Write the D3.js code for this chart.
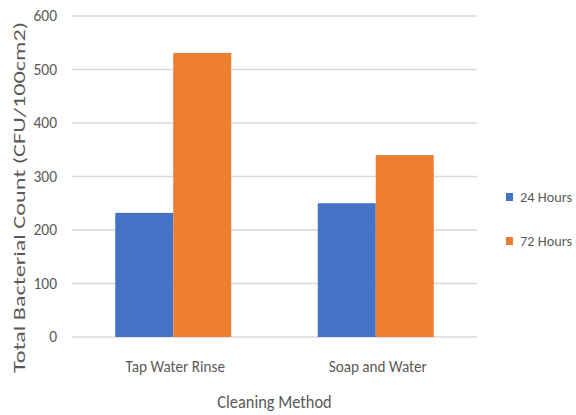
<!DOCTYPE html>
<html><head><meta charset="utf-8">
<script src="https://cdn.jsdelivr.net/npm/d3@7"></script>
<style>body{margin:0;background:#fff;} text{font-family:Carlito,Lato,sans-serif;fill:#595959;}</style>
</head><body>
<script>
const categories = ["Tap Water Rinse", "Soap and Water"];
const seriesNames = ["24 Hours", "72 Hours"];
const values24 = [232, 250];
const values72 = [531, 340];
const yTicks = [0, 100, 200, 300, 400, 500, 600];
const colors = ["#4472C4", "#ED7D31"];

const W = 576, H = 415;
const svg = d3.select("body").append("svg").attr("width", W).attr("height", H);
const m = {left: 72, right: 99, top: 16, bottom: 78};
const x = d3.scaleBand().domain(categories).range([m.left, W - m.right]).paddingInner(0).paddingOuter(0);
const xs = d3.scaleBand().domain(seriesNames).range([0, x.bandwidth()]).paddingInner(0).paddingOuter(0.746);
const y = d3.scaleLinear().domain([0, 600]).range([H - m.bottom, m.top]);

function squeeze(sel, k) {
  sel.each(function() {
    const len = this.getComputedTextLength();
    d3.select(this).attr("textLength", len * k).attr("lengthAdjust", "spacingAndGlyphs");
  });
}

svg.append("g").selectAll("line").data(yTicks).enter().append("line")
  .attr("x1", m.left).attr("x2", W - m.right)
  .attr("y1", d => y(d)).attr("y2", d => y(d))
  .attr("stroke", "#d9d9d9").attr("stroke-width", 1.4);

const yAxis = d3.axisLeft(y).tickValues(yTicks).tickSize(0).tickPadding(15);
const ya = svg.append("g").attr("transform", `translate(${m.left},0)`).call(yAxis);
ya.select(".domain").remove();
ya.selectAll("text").style("font-size", "15.5px").attr("fill", "#595959");

const data = categories.map((c, i) => ({c, vals: [values24[i], values72[i]]}));
const grp = svg.selectAll("g.cat").data(data).enter().append("g").attr("class", "cat")
  .attr("transform", d => `translate(${x(d.c)},0)`);
grp.selectAll("rect").data(d => d.vals.map((v, j) => ({s: seriesNames[j], v, j}))).enter().append("rect")
  .attr("x", d => xs(d.s)).attr("width", xs.bandwidth())
  .attr("y", d => y(d.v)).attr("height", d => y(0) - y(d.v))
  .attr("fill", d => colors[d.j]);

const xAxis = d3.axisBottom(x).tickSize(0).tickPadding(23);
const xa = svg.append("g").attr("transform", `translate(2,${y(0)})`).call(xAxis);
xa.select(".domain").remove();
xa.selectAll("text").style("font-size", "16.5px").attr("fill", "#595959").call(squeeze, 0.92);

svg.append("text").attr("x", (m.left + W - m.right) / 2).attr("y", 408)
  .attr("text-anchor", "middle").style("font-size", "18px").text("Cleaning Method").call(squeeze, 0.91);
svg.append("text").attr("transform", `translate(25,197.5) rotate(-90)`)
  .attr("text-anchor", "middle").style("font-size", "17px")
  .attr("textLength", 351).attr("lengthAdjust", "spacingAndGlyphs")
  .text("Total Bacterial Count (CFU/100cm2)");

const leg = svg.selectAll("g.leg").data(seriesNames).enter().append("g").attr("class", "leg")
  .attr("transform", (d, i) => `translate(506,${197 + i * 44})`);
leg.append("rect").attr("x", 0).attr("y", -4).attr("width", 7).attr("height", 8).attr("fill", (d, i) => colors[i]);
leg.append("text").attr("x", 14).attr("y", 5).style("font-size", "14.3px").text(d => d);
</script>
</body></html>
